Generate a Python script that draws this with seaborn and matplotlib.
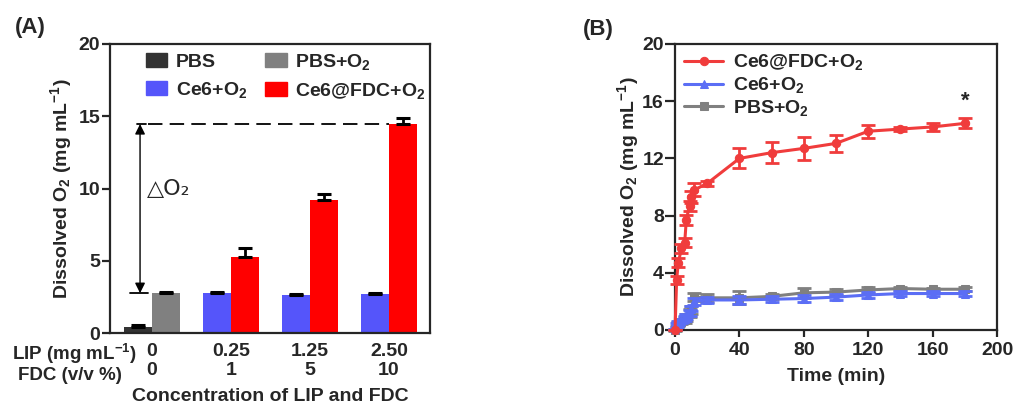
import numpy as np
import pandas as pd
import matplotlib
matplotlib.use('Agg')
import matplotlib.pyplot as plt
import seaborn as sns

# ---- panel A data (bar chart) ----
lip_labels = ['0', '0.25', '1.25', '2.50']
fdc_labels = ['0', '1', '5', '10']
left_conditions = ['PBS', 'Ce6+O2', 'Ce6+O2', 'Ce6+O2']
left_values = [0.45, 2.75, 2.63, 2.72]
left_errors = [0.08, 0.08, 0.1, 0.08]
right_conditions = ['PBS+O2', 'Ce6@FDC+O2', 'Ce6@FDC+O2', 'Ce6@FDC+O2']
right_values = [2.76, 5.26, 9.2, 14.46]
right_errors = [0.08, 0.65, 0.4, 0.45]

# ---- panel B data (time course) ----
times = [0, 1, 2, 4, 6, 7, 9, 10, 12, 20, 40, 60, 80, 100, 120, 140, 160, 180]
fdc_o2 = [0, 3.5, 4.7, 5.7, 6.1, 7.7, 8.7, 9.3, 9.8, 10.25, 12.0, 12.4, 12.7, 13.05, 13.9, 14.05, 14.2, 14.45]
fdc_o2_err = [0, 0.3, 0.3, 0.3, 0.3, 0.35, 0.35, 0.4, 0.45, 0.2, 0.7, 0.75, 0.8, 0.6, 0.45, 0.15, 0.25, 0.35]
ce6_o2 = [0.05, 0.35, 0.5, 0.65, 0.8, 0.95, 1.2, 1.5, 2.0, 2.1, 2.1, 2.15, 2.2, 2.3, 2.45, 2.55, 2.55, 2.55]
ce6_o2_err = [0.05, 0.15, 0.15, 0.15, 0.15, 0.2, 0.2, 0.2, 0.25, 0.2, 0.3, 0.2, 0.25, 0.2, 0.2, 0.2, 0.2, 0.2]
pbs_o2 = [0.0, 0.2, 0.4, 0.55, 0.7, 0.9, 1.2, 1.4, 2.3, 2.25, 2.25, 2.35, 2.6, 2.65, 2.8, 2.9, 2.85, 2.85]
pbs_o2_err = [0.05, 0.1, 0.15, 0.15, 0.2, 0.25, 0.3, 0.3, 0.3, 0.3, 0.45, 0.2, 0.35, 0.2, 0.2, 0.1, 0.1, 0.15]

bar_colors = {'PBS': '#333333', 'PBS+O2': '#808080',
              'Ce6+O2': '#5555fa', 'Ce6@FDC+O2': '#ff0000'}
line_colors = {'Ce6@FDC+O2': '#f03c3c', 'Ce6+O2': '#5b6ef5', 'PBS+O2': '#808080'}
line_markers = {'Ce6@FDC+O2': 'o', 'Ce6+O2': '^', 'PBS+O2': 's'}
pretty = {'PBS': 'PBS', 'PBS+O2': 'PBS+O$_2$', 'Ce6+O2': 'Ce6+O$_2$',
          'Ce6@FDC+O2': 'Ce6@FDC+O$_2$'}

FS = 14

sns.set_theme(style='ticks')
plt.rcParams['font.family'] = ['Liberation Sans', 'DejaVu Sans']
plt.rcParams['font.weight'] = 'bold'
plt.rcParams['font.size'] = FS
plt.rcParams['mathtext.fontset'] = 'custom'
plt.rcParams['mathtext.rm'] = 'Liberation Sans:bold'
plt.rcParams['mathtext.bf'] = 'Liberation Sans:bold'
plt.rcParams['mathtext.it'] = 'Liberation Sans:bold:italic'
plt.rcParams['mathtext.default'] = 'rm'
plt.rcParams['axes.linewidth'] = 1.6

fig = plt.figure(figsize=(10.16, 4.07), dpi=100)
axA = fig.add_axes([0.1083, 0.1818, 0.3149, 0.7101])
axB = fig.add_axes([0.6644, 0.1892, 0.3169, 0.7027])

# ---------------- panel A ----------------
groups = [f'{a}\n{b}' for a, b in zip(lip_labels, fdc_labels)]
dfA = pd.DataFrame({
    'group': groups * 2,
    'slot': ['L'] * 4 + ['R'] * 4,
    'value': left_values + right_values,
    'err': left_errors + right_errors,
    'condition': left_conditions + right_conditions,
})
sns.barplot(data=dfA, x='group', y='value', hue='slot', order=groups,
            hue_order=['L', 'R'], width=0.708, errorbar=None, legend=False,
            palette=['#333333', '#808080'], saturation=1, ax=axA)

for container, slot in zip(axA.containers, ['L', 'R']):
    sub = dfA[dfA['slot'] == slot].set_index('group').loc[groups]
    for bar, (_, row) in zip(container, sub.iterrows()):
        bar.set_facecolor(bar_colors[row['condition']])
        bar.set_edgecolor('none')
        cx = bar.get_x() + bar.get_width() / 2
        axA.errorbar(cx, row['value'], yerr=[[0], [row['err']]], fmt='none',
                     ecolor='black', elinewidth=2, capsize=5, capthick=2.2, zorder=3)

axA.set_xlim(-0.53, 3.52)
axA.set_ylim(0, 20)
axA.set_yticks([0, 5, 10, 15, 20])
axA.tick_params(axis='y', length=6, width=1.6, labelsize=FS, pad=1)
axA.tick_params(axis='x', length=0, labelsize=FS, pad=7.5)
for lab in axA.get_xticklabels():
    lab.set_linespacing(1.1)
axA.set_xlabel('Concentration of LIP and FDC', fontsize=FS, fontweight='bold', labelpad=7)
axA.set_ylabel('Dissolved O$_2$ (mg mL$^{-1}$)', fontsize=FS, fontweight='bold', labelpad=3)
for s in axA.spines.values():
    s.set_linewidth(1.6)

# delta O2 annotation
top_val = right_values[-1]
base_val = right_values[0]
axA.plot([-0.19, -0.07], [top_val, top_val], color='black', lw=1.3)
axA.plot([-0.05, 3.0], [top_val, top_val], color='black', lw=1.3, dashes=(8, 4))
axA.plot([-0.28, -0.05], [base_val, base_val], color='black', lw=1.3)
axA.annotate('', xy=(-0.15, top_val), xytext=(-0.15, base_val),
             arrowprops=dict(arrowstyle='<|-|>', color='black', lw=1.0,
                             mutation_scale=15, shrinkA=0, shrinkB=0))
axA.text(-0.06, 10.0, '△O₂', fontsize=16, fontweight='normal', ha='left', va='center',
         family=['DejaVu Sans'])

handlesA = [plt.Rectangle((0, 0), 1, 1, color=bar_colors[k]) for k in bar_colors]
labelsA = [pretty[k] for k in bar_colors]
# order so 2 columns read: PBS, PBS+O2 / Ce6+O2, Ce6@FDC+O2
order = [0, 2, 1, 3]
axA.legend([handlesA[i] for i in order], [labelsA[i] for i in order], ncol=2,
           loc='upper left', bbox_to_anchor=(0.07, 1.02), frameon=False,
           fontsize=FS, handlelength=1.1, handleheight=0.7, handletextpad=0.45,
           columnspacing=0.9, labelspacing=0.45, borderaxespad=0.3)

fig.text(137 / 1016, 1 - 354 / 407, 'LIP (mg mL$^{-1}$)', ha='right', va='center', fontsize=13.5)
fig.text(122 / 1016, 1 - 375 / 407, 'FDC (v/v %)', ha='right', va='center', fontsize=13.5)
fig.text(15 / 1016, 1 - 27 / 407, '(A)', ha='left', va='center', fontsize=16)

# ---------------- panel B ----------------
series = {'Ce6@FDC+O2': (fdc_o2, fdc_o2_err),
          'Ce6+O2': (ce6_o2, ce6_o2_err),
          'PBS+O2': (pbs_o2, pbs_o2_err)}
dfB = pd.concat([pd.DataFrame({'time': times, 'value': v, 'err': e, 'series': k})
                 for k, (v, e) in series.items()], ignore_index=True)

for z, name in enumerate(['PBS+O2', 'Ce6+O2', 'Ce6@FDC+O2']):
    sub = dfB[dfB['series'] == name]
    col = line_colors[name]
    axB.errorbar(sub['time'], sub['value'], yerr=sub['err'], fmt='none', ecolor=col,
                 elinewidth=2, capsize=5, capthick=2, zorder=2 + z, clip_on=False)
    sns.lineplot(data=sub, x='time', y='value', color=col, marker=line_markers[name],
                 markersize=6, markeredgecolor=col, linewidth=2.2, label=pretty[name],
                 errorbar=None, ax=axB, zorder=2 + z, clip_on=False)

h, l = axB.get_legend_handles_labels()
want = [pretty[k] for k in ['Ce6@FDC+O2', 'Ce6+O2', 'PBS+O2']]
hmap = dict(zip(l, h))
axB.legend([hmap[k] for k in want], want, loc='upper left', bbox_to_anchor=(-0.02, 1.025),
           frameon=False, fontsize=FS, handlelength=2.0, handletextpad=0.5,
           labelspacing=0.15, borderaxespad=0.4)

axB.text(180, 16.0, '*', ha='center', va='center', fontsize=16)
axB.set_xlim(0, 200)
axB.set_ylim(0, 20)
axB.set_xticks([0, 40, 80, 120, 160, 200])
axB.set_yticks([0, 4, 8, 12, 16, 20])
axB.tick_params(axis='y', length=7, width=1.6, labelsize=FS, pad=1)
axB.tick_params(axis='x', length=5, width=1.6, labelsize=FS, pad=4)
axB.set_xlabel('Time (min)', fontsize=FS, fontweight='bold', labelpad=6)
axB.set_ylabel('Dissolved O$_2$ (mg mL$^{-1}$)', fontsize=FS, fontweight='bold', labelpad=1)
for s in axB.spines.values():
    s.set_linewidth(1.6)
fig.text(583 / 1016, 1 - 30 / 407, '(B)', ha='left', va='center', fontsize=16)

fig.savefig('out.png', dpi=100)
